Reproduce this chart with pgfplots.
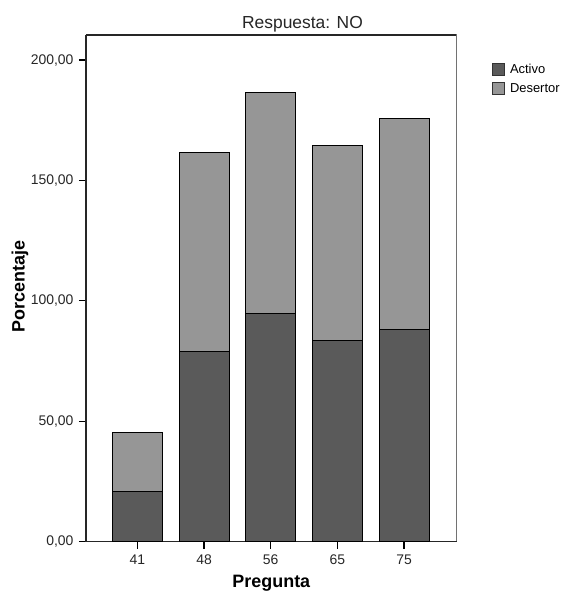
\documentclass[border=0pt]{standalone}
\usepackage{pgfplots}
\pgfplotsset{compat=1.18}
\usepackage{fontspec}
\setmainfont{Liberation Sans}
\definecolor{activo}{RGB}{90,90,90}
\definecolor{desertor}{RGB}{150,150,150}
\begin{document}
\begin{tikzpicture}[x=1bp,y=1bp]
\useasboundingbox (-86bp,-50.3bp) rectangle (477bp,541.7bp);
\begin{axis}[
  at={(0,0)}, anchor=south west,
  scale only axis,
  width=370.7bp, height=506.7bp,
  ybar stacked,
  bar width=50bp,
  xmin=-0.77, xmax=4.79,
  ymin=0, ymax=210.4,
  xtick={0,1,2,3,4},
  xticklabels={41,48,56,65,75},
  ytick={0,50,100,150,200},
  yticklabel style={xshift=-2bp, /pgf/number format/.cd, fixed, fixed zerofill, precision=2, use comma, assume math mode=true},
  xticklabel style={yshift=-3bp, /pgf/number format/assume math mode=true},
  ticklabel style={font=\fontsize{14}{16}\selectfont, text=black!85},
  tick align=outside,
  major tick length=7bp,
  tick style={black, line width=1.2bp},
  axis line style={black!85, line width=1.5bp},
  xtick pos=bottom, ytick pos=left,
  axis x line*=bottom, axis y line*=left,
  every axis title shift=0pt,
  title={Respuesta: NO},
  title style={at={(axis description cs:0.584,1)}, anchor=base, yshift=6bp, font=\fontsize{17.5}{19}\selectfont, text=black!85},
  ylabel={Porcentaje},
  ylabel style={at={(axis description cs:-0.178,0.503)}, anchor=center, font=\fontsize{18}{20}\selectfont\bfseries},
  xlabel={Pregunta},
  xlabel style={at={(axis description cs:0.5,-0.0815)}, anchor=center, inner sep=0pt, font=\fontsize{18}{20}\selectfont\bfseries},
  legend style={at={(axis description cs:1.095,0.945)}, anchor=north west, draw=none, fill=none,
    font=\fontsize{13}{15}\selectfont, row sep=6bp, inner sep=0pt,
    nodes={inner sep=1bp}},
  legend cell align=left,
  legend image code/.code={\draw[#1,draw=black!80,line width=0.8bp] (0bp,-6bp) rectangle (12bp,6bp); \path (16bp,0bp);},
]
\addplot[fill=activo, draw=black, line width=1bp] coordinates {(0,21.0) (1,78.9) (2,94.8) (3,83.6) (4,88.3)};
\addplot[fill=desertor, draw=black, line width=1bp] coordinates {(0,24.3) (1,82.8) (2,91.8) (3,81.0) (4,87.5)};
\legend{Activo,Desertor}
% top and right frame
\draw[black!85, line width=1.5bp] (rel axis cs:0,1) -- (rel axis cs:1,1) -- (rel axis cs:1,0);
\end{axis}
\end{tikzpicture}
\end{document}
